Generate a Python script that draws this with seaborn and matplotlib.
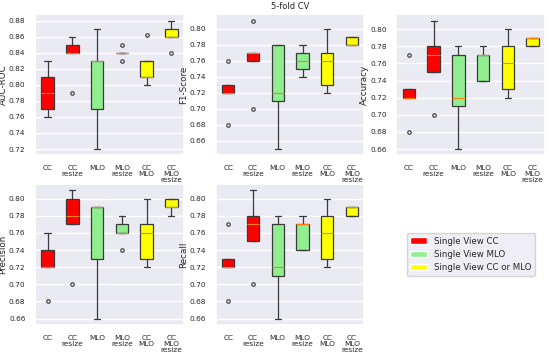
import numpy as np
import pandas as pd
import matplotlib.pyplot as plt
import seaborn as sns
from matplotlib.patches import Patch
from matplotlib.ticker import MultipleLocator, FormatStrFormatter

# configurations on the x axis
configs = ["CC", "CC\nresize", "MLO", "MLO\nresize", "CC\nMLO", "CC\nMLO\nresize"]
box_colors = ["red", "red", "lightgreen", "lightgreen", "yellow", "yellow"]

# 5-fold CV scores per configuration
auc_roc = [
    [0.76, 0.77, 0.79, 0.81, 0.83],
    [0.79, 0.84, 0.84, 0.85, 0.86],
    [0.72, 0.77, 0.83, 0.83, 0.87],
    [0.83, 0.84, 0.84, 0.84, 0.85],
    [0.80, 0.81, 0.81, 0.83, 0.862],
    [0.84, 0.86, 0.86, 0.87, 0.88],
]
f1_score = [
    [0.68, 0.72, 0.72, 0.73, 0.76],
    [0.70, 0.76, 0.77, 0.77, 0.81],
    [0.65, 0.71, 0.72, 0.78, 0.78],
    [0.74, 0.75, 0.76, 0.77, 0.78],
    [0.72, 0.73, 0.76, 0.77, 0.80],
    [0.78, 0.78, 0.78, 0.79, 0.79],
]
accuracy = [
    [0.68, 0.72, 0.72, 0.73, 0.77],
    [0.70, 0.75, 0.77, 0.78, 0.81],
    [0.66, 0.71, 0.72, 0.77, 0.78],
    [0.74, 0.74, 0.77, 0.77, 0.78],
    [0.72, 0.73, 0.76, 0.78, 0.80],
    [0.78, 0.78, 0.79, 0.79, 0.79],
]
precision = [
    [0.68, 0.72, 0.72, 0.74, 0.76],
    [0.70, 0.77, 0.78, 0.80, 0.81],
    [0.66, 0.73, 0.79, 0.79, 0.79],
    [0.74, 0.76, 0.76, 0.77, 0.78],
    [0.72, 0.73, 0.76, 0.77, 0.80],
    [0.78, 0.79, 0.79, 0.80, 0.80],
]
recall = [
    [0.68, 0.72, 0.72, 0.73, 0.77],
    [0.70, 0.75, 0.77, 0.78, 0.81],
    [0.66, 0.71, 0.72, 0.77, 0.78],
    [0.74, 0.74, 0.77, 0.77, 0.78],
    [0.72, 0.73, 0.76, 0.78, 0.80],
    [0.78, 0.78, 0.79, 0.79, 0.79],
]

metric_names = ["AUC-ROC", "F1-Score", "Accuracy", "Precision", "Recall"]
metric_values = [auc_roc, f1_score, accuracy, precision, recall]

legend_labels = ["Single View CC", "Single View MLO", "Single View CC or MLO"]
legend_colors = ["red", "lightgreen", "yellow"]

sns.set_theme(style="darkgrid")
plt.rcParams["font.family"] = ["DejaVu Sans"]

fig, axes = plt.subplots(2, 3, figsize=(5.5, 3.54), dpi=100)
axes = axes.flatten()

for ax, name, values in zip(axes, metric_names, metric_values):
    rows = []
    for cfg, vals in zip(configs, values):
        for v in vals:
            rows.append({"config": cfg, "score": v})
    df = pd.DataFrame(rows)

    sns.boxplot(
        data=df, x="config", y="score", hue="config",
        palette=dict(zip(configs, box_colors)), legend=False,
        width=0.5, linewidth=0.9, linecolor="#3a3a3a",
        saturation=1, fliersize=2.5,
        medianprops=dict(color="#ff7f0e", linewidth=0.8),
        flierprops=dict(marker="o", markerfacecolor="none",
                        markeredgecolor="#333333", markeredgewidth=0.8),
        ax=ax,
    )
    ax.set_xlabel("")
    ax.set_ylabel(name, fontsize=6.3, labelpad=1)
    ax.tick_params(axis="both", labelsize=5.3, pad=1)
    for lbl in ax.get_xticklabels():
        lbl.set_linespacing(1.0)
    ax.yaxis.set_major_locator(MultipleLocator(0.02))
    ax.yaxis.set_major_formatter(FormatStrFormatter("%.2f"))

axes[1].set_title("5-fold CV", fontsize=6, pad=4)

axes[5].axis("off")
handles = [Patch(facecolor=c, label=l) for c, l in zip(legend_colors, legend_labels)]
axes[5].legend(handles=handles, loc="center", fontsize=6.2,
               handlelength=2, frameon=True)

fig.subplots_adjust(left=0.064, right=0.991, top=0.96, bottom=0.082,
                    wspace=0.216, hspace=0.2)
fig.savefig("out.png")
